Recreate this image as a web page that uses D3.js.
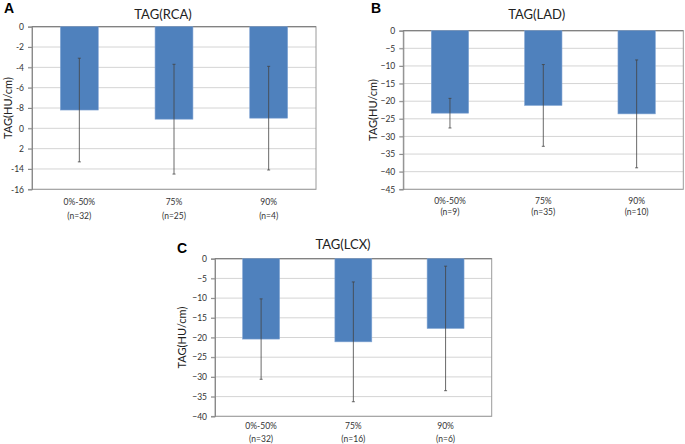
<!DOCTYPE html>
<html><head><meta charset="utf-8">
<script src="https://cdn.jsdelivr.net/npm/d3@7/dist/d3.min.js"></script>
<style>body{margin:0;background:#fff}svg{display:block}</style>
</head><body>
<svg id="c" width="685" height="444"></svg>
<script>
const categories = ["0%-50%", "75%", "90%"];
const rcaN = ["(n=32)", "(n=25)", "(n=4)"];
const ladN = ["(n=9)", "(n=35)", "(n=10)"];
const lcxN = ["(n=32)", "(n=16)", "(n=6)"];
const rcaMean = [-8.2, -9.1, -9.0];
const rcaSD = [5.1, 5.4, 5.1];
const ladMean = [-23.4, -21.2, -23.6];
const ladSD = [4.2, 11.6, 15.3];
const lcxMean = [-20.4, -21.1, -17.7];
const lcxSD = [10.2, 15.2, 15.8];
const rcaTicks = [0, -2, -4, -6, -8, -10, -12, -14, -16];
const rcaTickLabels = ["0", "-2", "-4", "-6", "-8", "0", "2", "-14", "-16"];
const ladTicks = [0, -5, -10, -15, -20, -25, -30, -35, -40, -45];
const lcxTicks = [0, -5, -10, -15, -20, -25, -30, -35, -40];

const svg = d3.select("#c");
const FONT = "Lato, 'Open Sans', sans-serif";

function panel(o) {
  const g = svg.append("g");
  const x = d3.scaleBand().domain(categories).range([o.x0, o.x1]).padding(0);
  const y = d3.scaleLinear().domain([0, o.min]).range([o.y0, o.y1]);
  const bw = x.bandwidth();
  g.selectAll("line.grid").data(o.ticks).join("line")
    .attr("x1", o.x0 - 4).attr("x2", o.x1)
    .attr("y1", d => y(d)).attr("y2", d => y(d))
    .attr("stroke", "#d4d4d4").attr("stroke-width", 1);
  g.append("rect").attr("x", o.x0).attr("y", o.y0)
    .attr("width", o.x1 - o.x0).attr("height", o.y1 - o.y0)
    .attr("fill", "none").attr("stroke", "#9a9a9a").attr("stroke-width", 1);
  const ya = d3.axisLeft(y).tickValues(o.ticks).tickSize(4).tickPadding(4)
    .tickFormat((d, i) => o.labels ? o.labels[i] : d3.format("d")(d));
  const yg = g.append("g").attr("transform", `translate(${o.x0},0)`).call(ya);
  yg.select(".domain").attr("stroke", "#8a8a8a");
  yg.selectAll(".tick line").attr("stroke", "#8a8a8a");
  yg.selectAll("text").attr("font-family", FONT).attr("font-size", 8.5).attr("fill", "#333");
  g.append("line").attr("x1", o.x0).attr("x2", o.x1).attr("y1", y(0)).attr("y2", y(0))
    .attr("stroke", "#7a7a7a");
  const data = categories.map((c, i) => ({c, m: o.mean[i], s: o.sd[i], n: o.n[i]}));
  g.selectAll("rect.bar").data(data).join("rect")
    .attr("x", d => x(d.c) + bw * 0.3).attr("width", bw * 0.4)
    .attr("y", y(0)).attr("height", d => y(d.m) - y(0))
    .attr("fill", "#4f81bd").attr("stroke", "#7fa3d3").attr("stroke-width", 0.6);
  const cx = d => x(d.c) + bw / 2;
  g.selectAll("line.err").data(data).join("line")
    .attr("x1", cx).attr("x2", cx)
    .attr("y1", d => y(d.m + d.s)).attr("y2", d => y(d.m - d.s))
    .attr("stroke", "#444").attr("stroke-width", 0.8);
  [1, -1].forEach(k => {
    g.selectAll(null).data(data).join("line")
      .attr("x1", d => cx(d) - 1.5).attr("x2", d => cx(d) + 1.5)
      .attr("y1", d => y(d.m + k * d.s)).attr("y2", d => y(d.m + k * d.s))
      .attr("stroke", "#444").attr("stroke-width", 0.8);
  });
  g.selectAll("text.xl").data(data).join("text")
    .attr("x", cx).attr("y", o.y1 + o.xl1).attr("text-anchor", "middle")
    .attr("font-family", FONT).attr("font-size", 8.5).attr("fill", "#333").text(d => d.c);
  g.selectAll("text.xn").data(data).join("text")
    .attr("x", cx).attr("y", o.y1 + o.xl2).attr("text-anchor", "middle")
    .attr("font-family", FONT).attr("font-size", 8.5).attr("fill", "#333").text(d => d.n);
  g.append("text").attr("x", o.tx).attr("y", o.ty).attr("text-anchor", "middle")
    .attr("font-family", FONT).attr("font-size", 13).attr("fill", "#222").text(o.title);
  g.append("text").attr("transform", `translate(${o.ylx},${(o.y0 + o.y1) / 2}) rotate(-90)`)
    .attr("text-anchor", "middle").attr("font-family", FONT).attr("font-size", 11)
    .attr("fill", "#222").text("TAG(HU/cm)");
  g.append("text").attr("x", o.lx).attr("y", o.ly)
    .attr("font-family", "'Liberation Sans', Arial, sans-serif").attr("font-weight", "bold")
    .attr("font-size", 14).attr("fill", "#000").text(o.letter);
}

panel({x0: 32, x1: 316, y0: 26.7, y1: 189.3, min: -16, ticks: rcaTicks, labels: rcaTickLabels,
  mean: rcaMean, sd: rcaSD, n: rcaN, title: "TAG(RCA)", tx: 163, ty: 19, ylx: 12,
  letter: "A", lx: 4, ly: 13, xl1: 16, xl2: 30});
panel({x0: 403.3, x1: 683.3, y0: 30.7, y1: 189.3, min: -45, ticks: ladTicks,
  mean: ladMean, sd: ladSD, n: ladN, title: "TAG(LAD)", tx: 536.7, ty: 19, ylx: 377,
  letter: "B", lx: 371, ly: 13, xl1: 15, xl2: 26});
panel({x0: 215, x1: 491.7, y0: 258.7, y1: 416.3, min: -40, ticks: lcxTicks,
  mean: lcxMean, sd: lcxSD, n: lcxN, title: "TAG(LCX)", tx: 343, ty: 249, ylx: 186,
  letter: "C", lx: 177, ly: 253, xl1: 13, xl2: 26});
</script>
</body></html>
